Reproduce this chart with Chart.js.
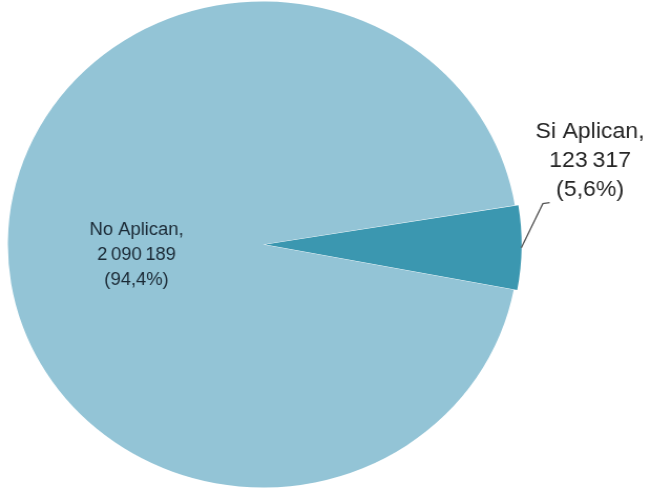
<!DOCTYPE html>
<html>
<head>
<meta charset="utf-8">
<script src="https://cdn.jsdelivr.net/npm/chart.js@4"></script>
<style>
  html, body { margin: 0; padding: 0; background: #fff; overflow: hidden; }
  #wrap { width: 618px; height: 490px; transform: scaleX(1.05); transform-origin: 0 0; }
</style>
</head>
<body>
<div id="wrap"><canvas id="c" width="618" height="490"></canvas></div>
<script>
// Slices of the pie
const categories = ['Si Aplican', 'No Aplican'];
const values = [123317, 2090189];
const sliceColors = ['#3b97b0', '#93c4d6'];
const sliceOffsets = [8, 0];

// Number formatting: thin space as thousands separator, comma as decimal mark
function fmtInt(n) {
  return String(n).replace(/\B(?=(\d{3})+(?!\d))/g, '\u2009');
}
function fmtPct(v, total) {
  return '(' + (v / total * 100).toFixed(1).replace('.', ',') + '%)';
}

const total = values.reduce((a, b) => a + b, 0);
const labelLines = values.map((v, i) => [categories[i] + ',', fmtInt(v), fmtPct(v, total)]);

const sliceLabels = {
  id: 'sliceLabels',
  afterDatasetsDraw(chart) {
    const ctx = chart.ctx;
    const arcs = chart.getDatasetMeta(0).data;
    ctx.save();
    ctx.textAlign = 'center';
    ctx.textBaseline = 'middle';

    // label inside the large slice
    const big = arcs[1];
    const cp = big.getCenterPoint();
    ctx.font = '17.5px "Liberation Sans", Arial, sans-serif';
    ctx.fillStyle = '#1b2a36';
    const lhIn = 25;
    labelLines[1].forEach((t, k) => {
      ctx.fillText(t, cp.x + 1, cp.y + 12 + (k - 1) * lhIn);
    });

    // label outside the small slice, with a leader line
    const s = arcs[0];
    const mid = (s.startAngle + s.endAngle) / 2;
    const r = s.outerRadius + s.options.offset;
    const ex = s.x + Math.cos(mid) * r;
    const ey = s.y + Math.sin(mid) * r;
    ctx.strokeStyle = '#555555';
    ctx.lineWidth = 1.3;
    ctx.beginPath();
    ctx.moveTo(ex - 5, ey);
    ctx.lineTo(ex + 15.5, ey - 44);
    ctx.lineTo(ex + 22, ey - 45);
    ctx.stroke();

    ctx.font = '22px "Liberation Sans", Arial, sans-serif';
    ctx.fillStyle = '#262626';
    const lhOut = 29;
    labelLines[0].forEach((t, k) => {
      ctx.fillText(t, ex + 60.5, ey - 58 + (k - 2) * lhOut);
    });
    ctx.restore();
  }
};

new Chart(document.getElementById('c'), {
  type: 'pie',
  data: {
    labels: categories,
    datasets: [{
      data: values,
      backgroundColor: sliceColors,
      borderWidth: 0,
      offset: sliceOffsets
    }]
  },
  options: {
    responsive: false,
    animation: false,
    rotation: 80.7,
    radius: 243,
    layout: { padding: { left: 0, right: 117, top: 0, bottom: 1 } },
    plugins: {
      legend: { display: false },
      tooltip: { enabled: false }
    }
  },
  plugins: [sliceLabels]
});
</script>
</body>
</html>
